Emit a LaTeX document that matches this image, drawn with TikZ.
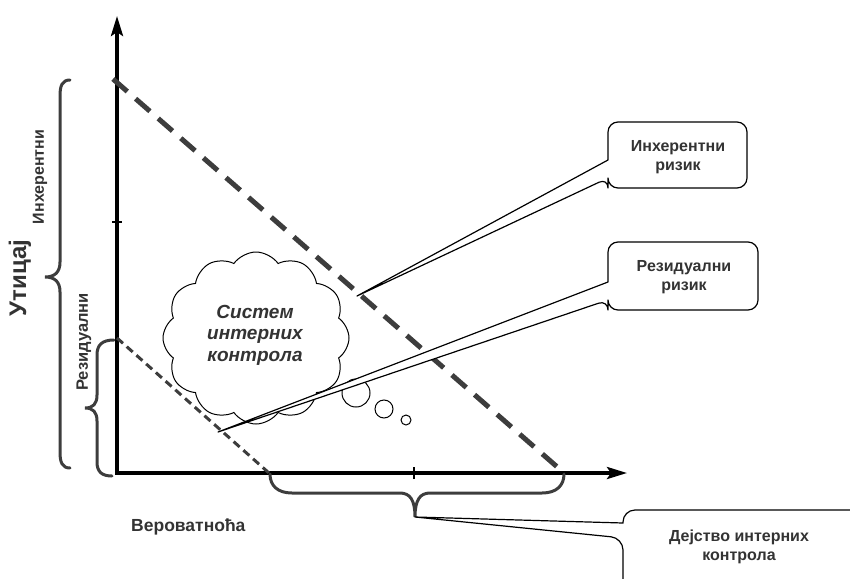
\documentclass[tikz,border=0pt]{standalone}
\usepackage{fontspec}
\setmainfont{Liberation Sans}
\usetikzlibrary{arrows.meta,shapes.symbols}
\definecolor{ink}{HTML}{333333}
\definecolor{brc}{HTML}{3D3D3D}

\begin{document}
\begin{tikzpicture}[x=1pt,y=-1pt,
  axis/.style={line width=3.5pt,{Stealth[length=20pt,width=12pt,inset=4pt]}-{Stealth[length=20pt,width=12pt,inset=4pt]}},
  tick/.style={line width=2pt},
  brace/.style={draw=brc,line width=3pt,line cap=round},
  inhline/.style={draw=brc,line width=5pt,dash pattern=on 19pt off 11pt},
  resline/.style={draw=brc,line width=3pt,dash pattern=on 8pt off 5pt},
  callout/.style={draw=black,fill=white,line width=1.2pt,line join=round},
  bubble/.style={draw=black,fill=white,line width=1pt},
  lbl/.style={text=ink,font=\bfseries\fontsize{16}{19}\selectfont,align=center,inner sep=0pt},
  ]
\useasboundingbox (0,0) rectangle (850,578);

% axes
\coordinate (O) at (117,473);
\coordinate (ytop) at (117,16);
\coordinate (xend) at (627,473);
\draw[axis] (ytop) -- (O) -- (xend);
\coordinate (ytick) at (117,222);
\coordinate (xtick) at (414,473);
\draw[tick] ([xshift=-5pt]ytick) -- ([xshift=5pt]ytick);
\draw[tick] ([yshift=-6pt]xtick) -- ([yshift=6pt]xtick);

% thought cloud
\node[cloud, cloud puffs=12, cloud puff arc=110, aspect=1.07, draw, fill=white,
      line width=1pt, minimum width=186pt, minimum height=172pt] (cloud) at (256,338) {};
\node[bubble, circle, minimum size=28pt, inner sep=0pt] (b1) at (356,393) {};
\node[bubble, circle, minimum size=18pt, inner sep=0pt] (b2) at (384,409) {};
\node[bubble, circle, minimum size=10pt, inner sep=0pt] (b3) at (406,420) {};

% risk lines
\coordinate (inhtop) at (113,79);
\coordinate (inhend) at (563,472);
\coordinate (restop) at (117,338);
\coordinate (resend) at (269,473);
\draw[inhline] (inhtop) -- (inhend);
\draw[resline] (restop) -- (resend);

% braces
\coordinate (bigA) at (70,80);
\coordinate (bigB) at (70,468);
\draw[brace] (bigA) .. controls (62,80) and (60,86) .. (60,96) -- (60,262)
  .. controls (60,272) and (55,277) .. (45,277)
  .. controls (55,277) and (60,282) .. (60,292) -- (60,452)
  .. controls (60,462) and (62,468) .. (bigB);
\coordinate (smA) at (114,340);
\coordinate (smB) at (112,476);
\draw[brace] (smA) .. controls (102,340) and (97,345) .. (97,355) -- (97,395)
  .. controls (97,404) and (93,408) .. (85,408)
  .. controls (93,408) and (97,412) .. (97,421) -- (97,462)
  .. controls (97,472) and (102,476) .. (smB);
\coordinate (btA) at (270,474);
\coordinate (btB) at (564,474);
\coordinate (bttip) at (415,517);
\draw[brace] (btA) .. controls (270,486) and (278,493) .. (292,493) -- (400,493)
  .. controls (410,493) and (415,500) .. (bttip)
  .. controls (415,500) and (420,493) .. (430,493) -- (542,493)
  .. controls (556,493) and (564,486) .. (btB);

% callouts
\coordinate (tipI) at (357,296);
\draw[callout] (608,160) [rounded corners=10pt] -- (608,122) -- (747,122) -- (747,188)
  -- (608,188) -- (608,178) [sharp corners] -- (tipI) -- cycle;
\coordinate (tipR) at (218,432);
\draw[callout] (608,282) [rounded corners=10pt] -- (608,242) -- (758,242) -- (758,310)
  -- (608,310) -- (608,300) [sharp corners] -- (tipR) -- cycle;
\draw[callout] (623,523) [rounded corners=12pt] -- (623,510) -- (880,510) -- (880,600)
  -- (623,600) -- (623,538) [sharp corners] -- (bttip) -- cycle;

% texts
\node[text=ink, font=\bfseries\itshape\fontsize{19}{21.5}\selectfont, align=center,
      inner sep=0pt] (cloudtext) at (255,335) {Систем\\интерних\\контрола};
\node[lbl] (inhrisk) at (678,157) {Инхерентни\\ризик};
\node[lbl] (resrisk) at (684,277) {Резидуални\\ризик};
\node[lbl] (effect) at (739,547) {Дејство интерних\\контрола};
\node[lbl, font=\bfseries\fontsize{24}{28}\selectfont, rotate=90] (impact) at (20,278) {Утицај};
\node[lbl, rotate=90] (inhlab) at (40,177) {Инхерентни};
\node[lbl, font=\bfseries\fontsize{16.5}{19}\selectfont, rotate=90] (reslab) at (84,342) {Резидуални};
\node[lbl, font=\bfseries\fontsize{17.5}{20}\selectfont, anchor=west] (prob) at (131,527) {Вероватноћа};
\end{tikzpicture}
\end{document}
